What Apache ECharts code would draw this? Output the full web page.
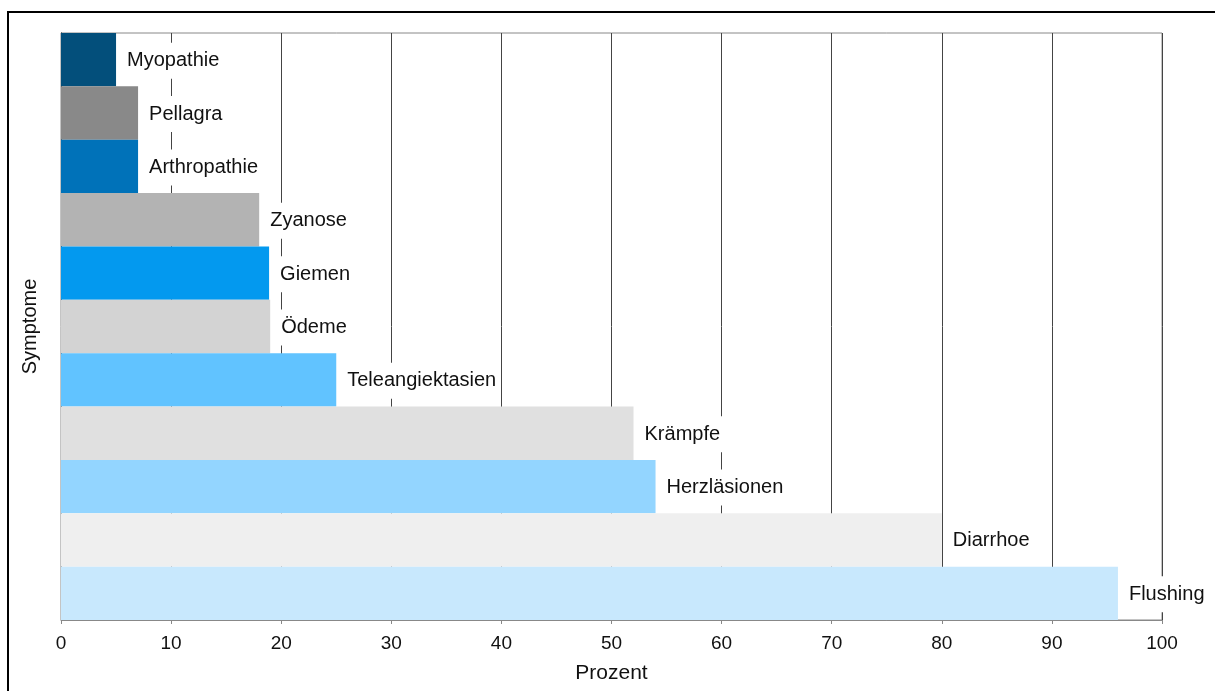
<!DOCTYPE html>
<html>
<head>
<meta charset="utf-8">
<script src="https://cdn.jsdelivr.net/npm/echarts@6/dist/echarts.min.js"></script>
<style>
html,body{margin:0;padding:0;background:#fff;}
#chart{width:1215px;height:691px;}
</style>
</head>
<body>
<div id="chart"></div>
<script>
const categories = ["Myopathie","Pellagra","Arthropathie","Zyanose","Giemen","Ödeme","Teleangiektasien","Krämpfe","Herzläsionen","Diarrhoe","Flushing"];
const values = [5, 7, 7, 18, 18.9, 19, 25, 52, 54, 80, 96];
const xTicks = [0,10,20,30,40,50,60,70,80,90,100];
const barColors = ["#034f7b","#898989","#0072b9","#b3b3b3","#0399ef","#d3d3d3","#61c3ff","#e0e0e0","#93d5ff","#efefef","#c8e8fd"];

const font = '"Liberation Sans", Arial, sans-serif';
const chart = echarts.init(document.getElementById('chart'), null, {renderer:'canvas'});
chart.setOption({
  animation:false,
  backgroundColor:'#fff',
  graphic:[{type:'rect', shape:{x:8,y:12,width:1240,height:720}, style:{fill:'none',stroke:'#000',lineWidth:2}, z:100, silent:true}],
  grid:{left:61,right:53,top:33,bottom:71,show:true,borderColor:'#888',borderWidth:1,backgroundColor:'transparent'},
  xAxis:{
    type:'value', min:xTicks[0], max:xTicks[xTicks.length-1], interval:10,
    name:'Prozent', nameLocation:'middle', nameGap:43,
    nameTextStyle:{fontFamily:font,fontSize:21,color:'#111'},
    axisLine:{show:true,lineStyle:{color:'#888',width:1}},
    axisTick:{show:true,length:4,lineStyle:{color:'#888'}},
    axisLabel:{fontFamily:font,fontSize:19,color:'#111',margin:14},
    splitLine:{show:true,lineStyle:{color:'#444',width:1}}
  },
  yAxis:{
    type:'category', data:categories, inverse:true,
    name:'Symptome', nameLocation:'middle', nameGap:21,
    nameTextStyle:{fontFamily:font,fontSize:20,color:'#111'},
    axisLine:{show:true,lineStyle:{color:'#000',width:1}},
    axisTick:{show:false},
    axisLabel:{show:false},
    splitLine:{show:false}
  },
  series:[{
    type:'bar',
    barCategoryGap:0,
    data: values.map((v,i)=>({value:v,itemStyle:{color:barColors[i]}})),
    label:{
      show:true, position:'right', distance:7,
      formatter:(p)=>categories[p.dataIndex],
      fontFamily:font, fontSize:20, color:'#111',
      backgroundColor:'#fff', padding:[8,4,8,4],
      offset:[0,1]
    }
  }]
});
</script>
</body>
</html>
